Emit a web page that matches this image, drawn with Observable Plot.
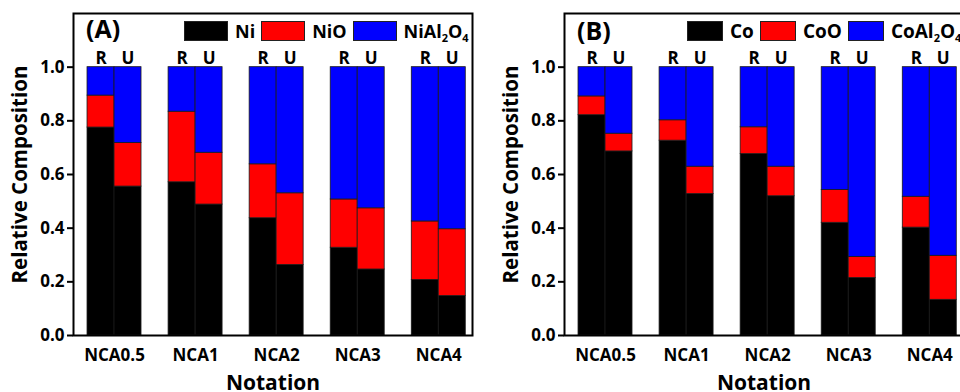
<!DOCTYPE html>
<html>
<head>
<meta charset="utf-8">
<script src="https://cdn.jsdelivr.net/npm/d3@7"></script>
<script src="https://cdn.jsdelivr.net/npm/@observablehq/plot@0.6"></script>
<style>
  html, body { margin: 0; padding: 0; background: #fff; }
  #wrap { position: relative; width: 960px; height: 392px; overflow: hidden; background: #fff;
          font-family: 'Open Sans', sans-serif; font-weight: bold; color: #000; }
  .panel { position: absolute; top: 0; width: 480px; height: 392px; }
  .tag { position: absolute; font-size: 25px; line-height: 1; }
  .legend { position: absolute; display: flex; align-items: center; font-size: 18px; line-height: 1; }
  .legend .sw { height: 20px; border: 0.8px solid #222; box-sizing: border-box; margin-right: 7px; }
  .legend .lab { margin-right: 6px; white-space: nowrap; }
  .legend sub { font-size: 11px; vertical-align: -4px; line-height: 0; }
</style>
</head>
<body>
<div id="wrap">
  <div class="panel" id="pa" style="left:0px"></div>
  <div class="panel" id="pb" style="left:491px"></div>
</div>
<script>
// ---- data ----
const groups = ["NCA0.5", "NCA1", "NCA2", "NCA3", "NCA4"];
const samples = ["R", "U"];
const yTicks = [0, 0.2, 0.4, 0.6, 0.8, 1.0];

// Panel A: Ni / NiO / NiAl2O4
const niMetalR   = [0.775, 0.571, 0.437, 0.327, 0.207];
const niOxideR   = [0.119, 0.263, 0.201, 0.180, 0.218];
const niSpinelR  = [0.106, 0.166, 0.362, 0.493, 0.575];
const niMetalU   = [0.555, 0.488, 0.263, 0.246, 0.147];
const niOxideU   = [0.162, 0.193, 0.267, 0.228, 0.249];
const niSpinelU  = [0.283, 0.319, 0.470, 0.526, 0.604];

// Panel B: Co / CoO / CoAl2O4
const coMetalR   = [0.821, 0.726, 0.676, 0.420, 0.402];
const coOxideR   = [0.070, 0.076, 0.100, 0.122, 0.115];
const coSpinelR  = [0.109, 0.198, 0.224, 0.458, 0.483];
const coMetalU   = [0.686, 0.527, 0.519, 0.214, 0.133];
const coOxideU   = [0.066, 0.102, 0.110, 0.079, 0.164];
const coSpinelU  = [0.248, 0.371, 0.371, 0.707, 0.703];

const phaseColors = ["#000000", "#ff0000", "#0000ff"];
const legendA = ["Ni", "NiO", "NiAl<sub>2</sub>O<sub>4</sub>"];
const legendB = ["Co", "CoO", "CoAl<sub>2</sub>O<sub>4</sub>"];

const W = 0.333; // half group width in group units

function buildRows(seriesR, seriesU) {
  const rows = [];
  groups.forEach((g, i) => {
    samples.forEach(s => {
      const ser = s === "R" ? seriesR : seriesU;
      ser.forEach((vals, k) => rows.push({i, group: g, s, k, v: vals[i]}));
    });
  });
  return rows;
}

function panel(el, rows, tag, legend, opts) {
  const labels = [];
  groups.forEach((g, i) => samples.forEach(s => labels.push({i, s})));
  const chart = Plot.plot({
    width: 480, height: 392,
    marginLeft: 73, marginRight: 8, marginTop: 13, marginBottom: 57,
    style: {fontFamily: "'Open Sans', sans-serif", fontWeight: "bold", fontSize: "17px", color: "#000", background: "transparent", overflow: "visible"},
    x: {type: "linear", domain: [-0.506, 4.416]},
    y: {domain: [0, 1.2]},
    color: {type: "ordinal", domain: [0, 1, 2], range: phaseColors},
    marks: [
      Plot.rectY(rows, Plot.stackY({
        x1: d => d.i + (d.s === "R" ? -W : 0),
        x2: d => d.i + (d.s === "R" ? 0 : W),
        y: "v", fill: "k", stroke: "#1a1a1a", strokeWidth: 0.8
      })),
      Plot.text(labels, {
        x: d => d.i + (d.s === "R" ? -W / 2 : W / 2), y: () => 1.0,
        text: "s", lineAnchor: "bottom", dy: -3, fontSize: 17, fontWeight: "bold"
      }),
      Plot.axisY({ticks: yTicks, tickFormat: d3.format(".1f"), tickSize: 6, tickPadding: 3, strokeWidth: 2, label: null, fontSize: 17}),
      Plot.axisX({ticks: [0, 1, 2, 3, 4], tickFormat: i => groups[i], tickSize: 0, tickPadding: 13, label: null, fontSize: 17}),
      Plot.text(["Relative Composition"], {frameAnchor: "left", textAnchor: "middle", lineAnchor: "middle", rotate: -90, dx: -53, fontSize: 20.5, fontWeight: "bold"}),
      Plot.text(["Notation"], {frameAnchor: "bottom", lineAnchor: "bottom", dy: 54, fontSize: 21, fontWeight: "bold"}),
      Plot.frame({stroke: "#000", strokeWidth: 2})
    ]
  });
  el.appendChild(chart);
  const t = document.createElement("div");
  t.className = "tag"; t.textContent = tag;
  t.style.left = opts.tagX + "px"; t.style.top = opts.tagY + "px";
  el.appendChild(t);
  const lg = document.createElement("div");
  lg.className = "legend";
  lg.style.left = opts.legX + "px"; lg.style.top = "21px";
  lg.style.fontSize = opts.legFont + "px";
  legend.forEach((name, k) => {
    const sw = document.createElement("span");
    sw.className = "sw"; sw.style.background = phaseColors[k]; sw.style.width = opts.swW + "px";
    const lab = document.createElement("span");
    lab.className = "lab"; lab.innerHTML = name;
    lg.appendChild(sw); lg.appendChild(lab);
  });
  el.appendChild(lg);
}

panel(document.getElementById("pa"),
  buildRows([niMetalR, niOxideR, niSpinelR], [niMetalU, niOxideU, niSpinelU]),
  "(A)", legendA, {tagX: 86, tagY: 16, legX: 184, swW: 44, legFont: 18});
panel(document.getElementById("pb"),
  buildRows([coMetalR, coOxideR, coSpinelR], [coMetalU, coOxideU, coSpinelU]),
  "(B)", legendB, {tagX: 86, tagY: 18, legX: 196, swW: 36, legFont: 19});
</script>
</body>
</html>
